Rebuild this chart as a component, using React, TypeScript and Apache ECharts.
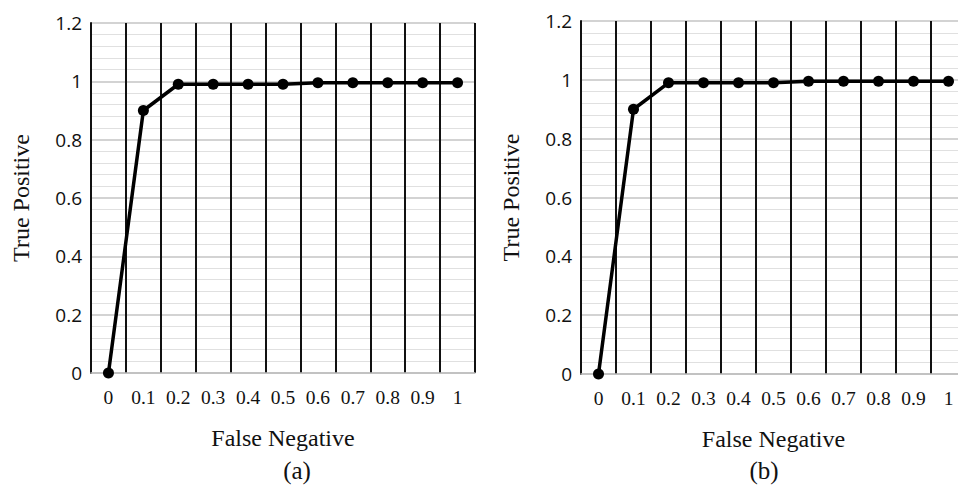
import React, { useEffect, useRef } from "react";
import * as echarts from "echarts";

const categories = ["0", "0.1", "0.2", "0.3", "0.4", "0.5", "0.6", "0.7", "0.8", "0.9", "1"];
const seriesA = [0, 0.9, 0.99, 0.99, 0.99, 0.99, 0.995, 0.995, 0.995, 0.995, 0.995];
const seriesB = [0, 0.9, 0.99, 0.99, 0.99, 0.99, 0.995, 0.995, 0.995, 0.995, 0.995];
const xTitle = "False Negative";
const yTitle = "True Positive";
const panelLabels = ["(a)", "(b)"];

const serif = "Liberation Serif";
const sans = "Open Sans";

export default function App() {
  const ref = useRef<HTMLDivElement>(null);
  useEffect(() => {
    if (!ref.current) return;
    const chart = echarts.init(ref.current, null, { renderer: "svg" });
    const grids = [
      { left: 91, top: 23, width: 384, height: 350 },
      { left: 581, top: 21, width: 385, height: 353 },
    ];
    const mkX = (i: number) => ({
      type: "category",
      gridIndex: i,
      data: categories,
      boundaryGap: true,
      name: xTitle,
      nameLocation: "middle",
      nameGap: 53,
      nameTextStyle: { fontFamily: serif, fontSize: 24, color: "#111" },
      axisLine: { show: true, lineStyle: { color: "#bdbdbd", width: 1.5 } },
      axisTick: { show: false },
      axisLabel: { fontFamily: serif, fontSize: 19.5, color: "#111", margin: 14 },
      splitLine: { show: true, lineStyle: { color: "#111", width: 2 } },
    });
    const mkY = (i: number) => ({
      type: "value",
      gridIndex: i,
      min: 0,
      max: 1.2,
      interval: 0.2,
      name: yTitle,
      nameLocation: "middle",
      nameGap: 58,
      nameTextStyle: { fontFamily: serif, fontSize: 24, color: "#111" },
      axisLine: { show: true, lineStyle: { color: "#111", width: 2 } },
      axisTick: { show: false },
      axisLabel: { fontFamily: sans, fontSize: 19, color: "#111", margin: 9 },
      splitLine: { show: true, lineStyle: { color: "#c4c4c4", width: 1.5 } },
      minorTick: { show: false, splitNumber: 5 },
      minorSplitLine: { show: true, lineStyle: { color: "#e0e0e0", width: 1 } },
    });
    const mkSeries = (i: number, data: number[]) => ({
      type: "line",
      xAxisIndex: i,
      yAxisIndex: i,
      data,
      symbol: "circle",
      symbolSize: 11,
      lineStyle: { color: "#000", width: 3.5 },
      itemStyle: { color: "#000" },
      z: 5,
    });
    chart.setOption({
      animation: false,
      backgroundColor: "#fff",
      grid: grids.map((g) => ({ ...g, containLabel: false, outerBoundsMode: "none" })),
      xAxis: [mkX(0), mkX(1)],
      yAxis: [mkY(0), mkY(1)],
      series: [mkSeries(0, seriesA), mkSeries(1, seriesB)],
      graphic: [
        {
          type: "text",
          x: 297,
          y: 470,
          style: { text: panelLabels[0], fontFamily: serif, fontSize: 25, fill: "#111", align: "center", verticalAlign: "middle" },
        },
        {
          type: "text",
          x: 764,
          y: 470,
          style: { text: panelLabels[1], fontFamily: serif, fontSize: 25, fill: "#111", align: "center", verticalAlign: "middle" },
        },
      ],
    });
    return () => chart.dispose();
  }, []);
  return <div ref={ref} style={{ width: 958, height: 490, position: "absolute", left: 0, top: 0 }} />;
}
